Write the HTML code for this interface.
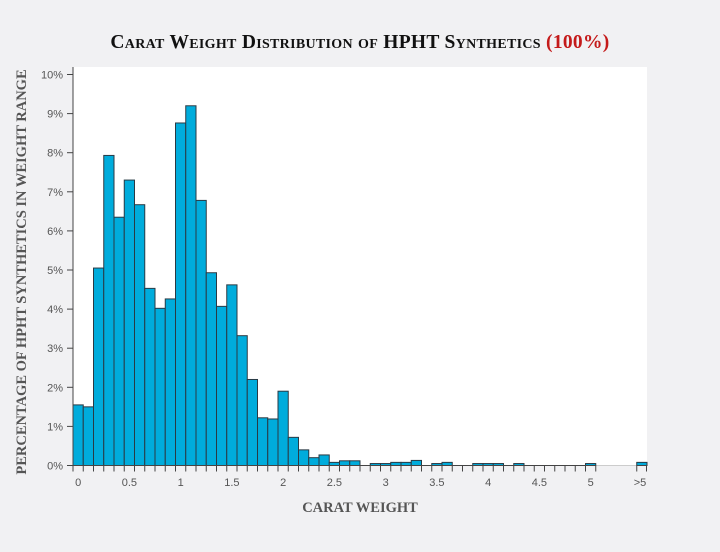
<!DOCTYPE html>
<html><head><meta charset="utf-8"><style>
html,body{margin:0;padding:0;background:#f1f1f3;}
svg{display:block;}
</style></head><body>
<svg id="s" width="720" height="552" xmlns="http://www.w3.org/2000/svg">
<rect width="720" height="552" fill="#f1f1f3"/>
<rect x="73" y="67" width="574" height="399" fill="#fff"/>
<text x="360" y="48" text-anchor="middle" font-family="Liberation Serif, serif" font-weight="bold" font-size="19.5" fill="#111" style="font-variant:small-caps;letter-spacing:0.3px">Carat Weight Distribution of HPHT Synthetics <tspan fill="#c41a1a">(100%)</tspan></text>
<text transform="translate(26,272) rotate(-90)" text-anchor="middle" font-family="Liberation Serif, serif" font-weight="bold" font-size="14.5" fill="#555">PERCENTAGE OF HPHT SYNTHETICS IN WEIGHT RANGE</text>
<text x="360" y="512" text-anchor="middle" font-family="Liberation Serif, serif" font-weight="bold" font-size="14.5" fill="#555">CARAT WEIGHT</text>
<g id="g"></g>
</svg>
<script>
var g=document.getElementById('g'),h='';
var x0=73,w=10.25,y0=465.5,py=39.1;
var v=[1.55,1.5,5.05,7.93,6.35,7.3,6.67,4.53,4.02,4.26,8.76,9.2,6.78,4.93,4.07,4.62,3.32,2.2,1.22,1.19,1.9,0.72,0.4,0.2,0.27,0.08,0.12,0.12,0,0.05,0.05,0.08,0.08,0.13,0,0.05,0.08,0,0,0.05,0.05,0.05,0,0.05,0,0,0,0,0,0,0.05];
h+='<line x1="73" y1="'+y0+'" x2="647" y2="'+y0+'" stroke="#ccc" stroke-width="1"/>';
for(var i=0;i<v.length;i++){if(v[i]>0){var hh=v[i]*py;h+='<rect x="'+(x0+i*w)+'" y="'+(y0-hh)+'" width="'+w+'" height="'+hh+'" fill="#00acdc" stroke="#2a3a44" stroke-width="1"/>';}}
var xg=x0+55*w;
h+='<rect x="'+xg+'" y="'+(y0-0.08*py)+'" width="'+(647-xg)+'" height="'+(0.08*py)+'" fill="#00acdc" stroke="#2a3a44" stroke-width="1"/>';
h+='<line x1="73" y1="'+y0+'" x2="'+(x0+51*w)+'" y2="'+y0+'" stroke="#444" stroke-width="1"/>';
h+='<line x1="'+xg+'" y1="'+y0+'" x2="647" y2="'+y0+'" stroke="#444" stroke-width="1"/>';
for(var i=0;i<=51;i++){var x=x0+i*w;h+='<line x1="'+x+'" y1="'+y0+'" x2="'+x+'" y2="'+(y0+6)+'" stroke="#444"/>';}
h+='<line x1="'+xg+'" y1="'+y0+'" x2="'+xg+'" y2="'+(y0+6)+'" stroke="#444"/><line x1="646.5" y1="'+y0+'" x2="646.5" y2="'+(y0+6)+'" stroke="#444"/>';
h+='<line x1="73" y1="67" x2="73" y2="'+y0+'" stroke="#444"/>';
for(var k=0;k<=10;k++){var y=y0-k*py;h+='<line x1="67" y1="'+y+'" x2="73" y2="'+y+'" stroke="#444"/><text x="63" y="'+(y+4)+'" text-anchor="end" font-family="Liberation Sans, sans-serif" font-size="11" fill="#555">'+k+'%</text>';}
var labs=['0','0.5','1','1.5','2','2.5','3','3.5','4','4.5','5'];
for(var k=0;k<labs.length;k++){var x=x0+(k*5+0.5)*w;h+='<text x="'+x+'" y="486" text-anchor="middle" font-family="Liberation Sans, sans-serif" font-size="11" fill="#555">'+labs[k]+'</text>';}
h+='<text x="640" y="486" text-anchor="middle" font-family="Liberation Sans, sans-serif" font-size="11" fill="#555">&gt;5</text>';
g.innerHTML=h;
</script>
</body></html>
